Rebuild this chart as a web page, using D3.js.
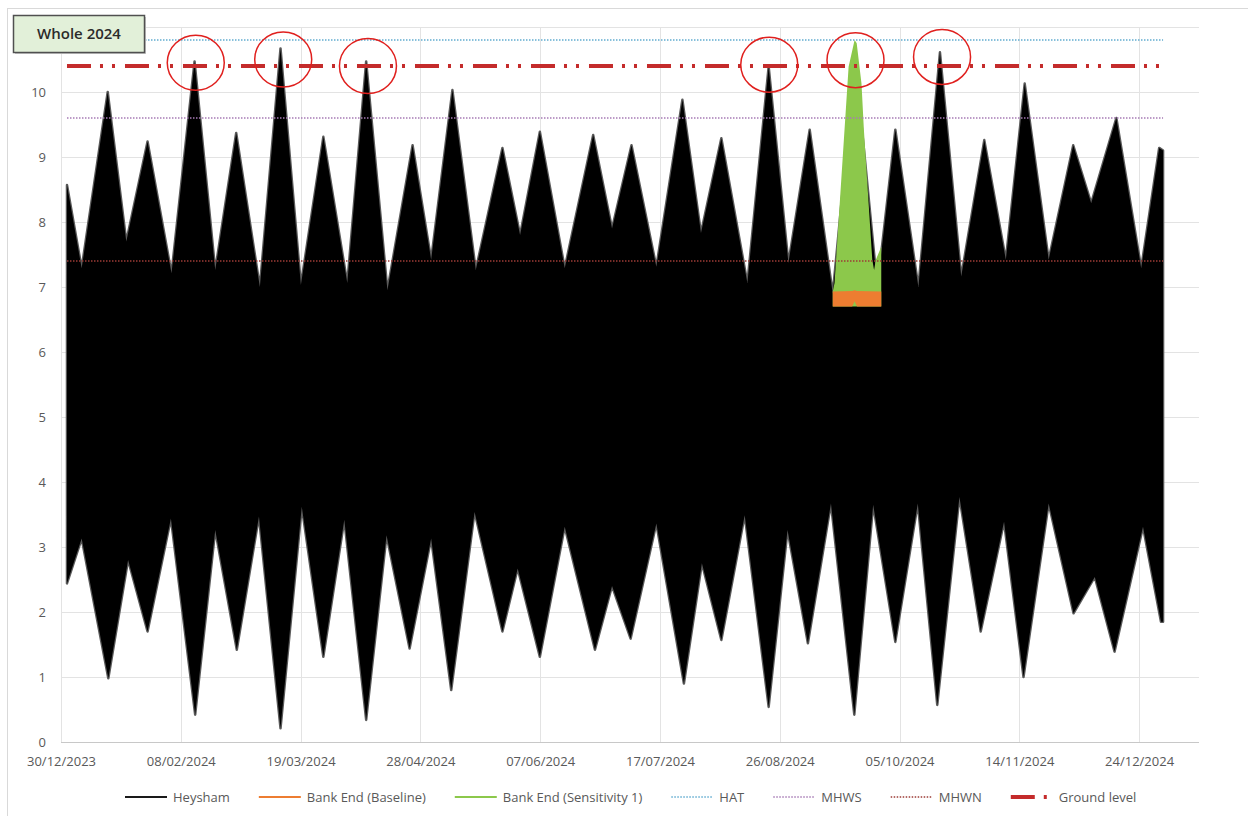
<!DOCTYPE html>
<html>
<head>
<meta charset="utf-8">
<script src="https://cdn.jsdelivr.net/npm/d3@7/dist/d3.min.js"></script>
<style>
  body { margin: 0; background: #fff; }
  text { font-family: "Open Sans", sans-serif; }
</style>
</head>
<body>
<div id="chart"></div>
<script>
// ---- data (days counted from 01/01/2024) ----
const SERIES_START = Date.UTC(2024, 0, 1)
const X_TICK_LABELS = ["30/12/2023","08/02/2024","19/03/2024","28/04/2024","07/06/2024",
                       "17/07/2024","26/08/2024","05/10/2024","14/11/2024","24/12/2024"]
const Y_TICKS = [0,1,2,3,4,5,6,7,8,9,10,11]
const Y_LABELLED = [0,1,2,3,4,5,6,7,8,9,10]   // 11 sits under the title box

// Heysham high water envelope
const HW_DAY   = [0,4.9,13.6,19.8,26.9,34.9,42.6,49.5,56.5,64.4,71.3,78.1,85.6,93.6,99.9,107,115.4,121.6,128.7,136.5,
                  145.4,151.3,157.9,166.2,175.7,182,188.5,196.8,205.5,211.7,218.5,227.2,234.3,240.9,248,255.7,263.2,270.6,
                  276.6,284.3,291.5,298.6,306.3,313.5,319.8,327.8,336,342,350.4,358.7,364.7,366]
const HW_LEVEL = [8.57,7.29,10.0,7.70,9.24,7.21,10.47,7.26,9.37,7.0,10.67,7.03,9.31,7.06,10.47,6.95,9.18,7.42,10.03,7.26,
                  9.14,7.8,9.39,7.29,9.34,7.9,9.18,7.31,9.88,7.83,9.29,7.06,10.39,7.37,9.42,6.9,10.5,7.0,
                  9.42,7.0,10.61,7.16,9.26,7.42,10.13,7.42,9.18,8.29,9.6,7.29,9.14,9.1]
// Heysham low water envelope
const LW_DAY   = [0,4.9,13.8,20.4,26.9,34.7,42.8,49.5,56.7,64.1,71.3,78.4,85.6,92.6,99.9,106.7,114.4,121.6,128.3,136.1,
                  145.4,150.5,157.9,166.2,176.3,182,188.2,196.8,206,212,218.5,226.3,234.3,240.6,247.4,255.1,262.9,269.2,
                  276.6,284.1,290.6,298,305.1,312.9,319.4,327.8,336.1,343.2,349.8,359.3,365.3,366]
const LW_LEVEL = [2.44,3.13,0.98,2.8,1.70,3.44,0.42,3.26,1.42,3.47,0.21,3.62,1.31,3.42,0.34,3.18,1.44,3.13,0.8,3.54,
                  1.70,2.67,1.31,3.31,1.42,2.4,1.59,3.36,0.9,2.75,1.57,3.49,0.54,3.26,1.52,3.67,0.42,3.65,
                  1.54,3.67,0.57,3.77,1.70,3.39,1.0,3.67,1.98,2.54,1.39,3.31,1.85,1.85]

// Bank End (Sensitivity 1)
const SENS_DAY   = [255.7,256.3,261.0,263.0,263.7,265.3,266.1,267.1,268.9,269.5,270.1,271.9,271.9]
const SENS_LEVEL = [6.93,7.06,10.39,10.8,10.75,10.13,9.42,8.7,7.42,7.26,7.42,7.62,6.93]
// Bank End (Baseline)
const BASE_DAY  = [255.7,262.2,263.0,263.8,271.9]
const BASE_HIGH = [6.93,6.94,6.95,6.94,6.93]
const BASE_LOW  = [6.70,6.70,6.78,6.70,6.70]

// reference levels
const REF_NAMES  = ["HAT","MHWS","MHWN","Ground level"]
const REF_LEVELS = [10.8,9.6,7.4,10.4]
const REF_DAYS   = [0,366]

// highlighted peaks
const CIRCLE_DAY   = [43,72.2,100.5,234.5,263.3,292.2]
const CIRCLE_LEVEL = [10.45,10.5,10.4,10.42,10.49,10.54]

// ---- layout ----
const W = 1248, H = 816
const plot = { left: 61, right: 1199, top: 27, bottom: 742 }
const parse = d3.utcParse("%d/%m/%Y")
const toDate = d => new Date(SERIES_START + d * 864e5)

const x = d3.scaleUtc()
  .domain([parse("30/12/2023"), parse("13/01/2025")])
  .range([plot.left, plot.right])
const y = d3.scaleLinear().domain([0, 11]).range([plot.bottom, plot.top])

const svg = d3.select("#chart").append("svg")
  .attr("width", W).attr("height", H)

// outer chart frame
svg.append("rect").attr("x", 7.5).attr("y", 8.5).attr("width", 1300).attr("height", 900)
  .attr("fill", "none").attr("stroke", "#d9d9d9")

// gridlines
const tickDates = X_TICK_LABELS.map(parse)
svg.append("g").selectAll("line").data(Y_TICKS.slice(1)).enter().append("line")
  .attr("x1", plot.left).attr("x2", x.range()[1])
  .attr("y1", d => Math.round(y(d)) + 0.5).attr("y2", d => Math.round(y(d)) + 0.5)
  .attr("stroke", "#e3e3e3")
svg.append("g").selectAll("line").data(tickDates).enter().append("line")
  .attr("x1", d => Math.round(x(d)) + 0.5).attr("x2", d => Math.round(x(d)) + 0.5)
  .attr("y1", plot.top).attr("y2", plot.bottom)
  .attr("stroke", "#e3e3e3")
svg.append("line")
  .attr("x1", plot.left).attr("x2", plot.right)
  .attr("y1", plot.bottom + 0.5).attr("y2", plot.bottom + 0.5)
  .attr("stroke", "#c8c8c8")

// axes labels
const xAxis = d3.axisBottom(x).tickValues(tickDates).tickFormat(d3.utcFormat("%d/%m/%Y")).tickSize(0).tickPadding(15)
svg.append("g").attr("transform", `translate(0,${plot.bottom})`).call(xAxis)
  .call(g => g.select(".domain").remove())
  .selectAll("text").attr("fill", "#595959").style("font-size", "13px")
const yAxis = d3.axisLeft(y).tickValues(Y_LABELLED).tickSize(0).tickPadding(15)
svg.append("g").attr("transform", `translate(${plot.left},0)`).call(yAxis)
  .call(g => g.select(".domain").remove())
  .selectAll("text").attr("fill", "#595959").style("font-size", "13px")

// Heysham tide envelope (grey fringe under the black fill)
const hw = HW_DAY.map((d, i) => [d, HW_LEVEL[i]])
const lw = LW_DAY.map((d, i) => [d, LW_LEVEL[i]])
const line = d3.line().x(d => x(toDate(d[0]))).y(d => y(d[1]))
const envelope = line(hw.concat(lw.slice().reverse())) + "Z"
svg.append("path").attr("d", envelope)
  .attr("fill", "none").attr("stroke", "#5a5a5a").attr("stroke-width", 2.5)
  .attr("stroke-linejoin", "round")
svg.append("path").attr("d", envelope).attr("fill", "#000")

// Bank End sensitivity + baseline
const sens = SENS_DAY.map((d, i) => [d, SENS_LEVEL[i]])
svg.append("path")
  .attr("d", d3.area().x(d => x(toDate(d[0]))).y0(y(6.7)).y1(d => y(d[1]))(sens))
  .attr("fill", "#8cc84b")
const base = BASE_DAY.map((d, i) => ({ d, hi: BASE_HIGH[i], lo: BASE_LOW[i] }))
svg.append("path")
  .attr("d", d3.area().x(p => x(toDate(p.d))).y0(p => y(p.lo)).y1(p => y(p.hi))(base))
  .attr("fill", "#ed7d31")

// reference levels
const refStyle = {
  "HAT":          { color: "#62acd0", width: 1.3, dash: "1.5,1.5" },
  "MHWS":         { color: "#a77bb5", width: 1.3, dash: "1.5,1.5" },
  "MHWN":         { color: "#9c3b36", width: 1.3, dash: "1.5,1.5" },
  "Ground level": { color: "#c42b2b", width: 4,   dash: "24,9,3,9,3,10" }
}
REF_NAMES.forEach((name, i) => {
  const s = refStyle[name]
  svg.append("path")
    .attr("d", line(REF_DAYS.map(d => [d, REF_LEVELS[i]])))
    .attr("fill", "none").attr("stroke", s.color)
    .attr("stroke-width", s.width).attr("stroke-dasharray", s.dash)
})

// highlight circles
svg.append("g").selectAll("ellipse").data(CIRCLE_DAY).enter().append("ellipse")
  .attr("cx", d => x(toDate(d))).attr("cy", (d, i) => y(CIRCLE_LEVEL[i]))
  .attr("rx", 28.5).attr("ry", 27.5)
  .attr("fill", "none").attr("stroke", "#e0201e").attr("stroke-width", 1.5)

// legend
const legendItems = [
  { name: "Heysham",                  color: "#1a1a1a", width: 2.2, dash: null },
  { name: "Bank End (Baseline)",      color: "#ed7d31", width: 2.2, dash: null },
  { name: "Bank End (Sensitivity 1)", color: "#8cc84b", width: 2.2, dash: null },
  { name: "HAT",                      color: "#62acd0", width: 1.3, dash: "1.5,1.5" },
  { name: "MHWS",                     color: "#a77bb5", width: 1.3, dash: "1.5,1.5" },
  { name: "MHWN",                     color: "#9c3b36", width: 1.3, dash: "1.5,1.5" },
  { name: "Ground level",             color: "#c42b2b", width: 4,   dash: "24,9,3,9" }
]
const legend = svg.append("g")
let lx = 0
legendItems.forEach(it => {
  const g = legend.append("g").attr("transform", `translate(${lx},0)`)
  g.append("line").attr("x1", 0).attr("x2", 42).attr("y1", 0).attr("y2", 0)
    .attr("stroke", it.color).attr("stroke-width", it.width)
    .attr("stroke-dasharray", it.dash)
  const t = g.append("text").attr("x", 48).attr("y", 4.5)
    .attr("fill", "#595959").style("font-size", "13px").text(it.name)
  lx += 48 + t.node().getComputedTextLength() + 29
})
const legendW = lx - 29
legend.attr("transform", `translate(${Math.round((plot.left + plot.right) / 2 - legendW / 2) + 1},797)`)

// title box
svg.append("rect").attr("x", 15).attr("y", 17).attr("width", 131).attr("height", 37)
  .attr("fill", "#c9c9c9")
svg.append("rect").attr("x", 13.5).attr("y", 15.5).attr("width", 131).attr("height", 37)
  .attr("fill", "#e2f0d9").attr("stroke", "#505050").attr("stroke-width", 1.5)
svg.append("text").attr("x", 79).attr("y", 39).attr("text-anchor", "middle")
  .attr("fill", "#2b2b2b").style("font-size", "15px").style("font-weight", 600)
  .text("Whole 2024")
</script>
</body>
</html>
